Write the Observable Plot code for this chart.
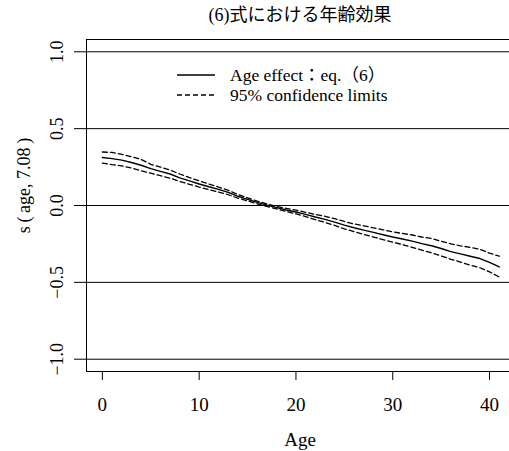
<!DOCTYPE html>
<html><head><meta charset="utf-8">
<script src="https://cdn.jsdelivr.net/npm/d3@7"></script>
<script src="https://cdn.jsdelivr.net/npm/@observablehq/plot@0.6"></script>
<style>body{margin:0;background:#fff}</style>
</head><body><div id="chart"></div>
<script>
const title = "(6)式における年齢効果";
const xLabel = "Age";
const yLabel = "s\u2009(\u2009age, 7.08\u2009)";
const legendLabels = ["Age effect：eq.（6）", "95% confidence limits"];
const xTicks = [0, 10, 20, 30, 40];
const yTicks = [-1.0, -0.5, 0.0, 0.5, 1.0];
const xDomain = [-1.64, 42.06];
const yDomain = [-1.08, 1.08];

const ages = [0,1,2,3,4,5,6,7,8,9,10,11,12,13,14,15,16,17,18,19,20,21,22,23,24,25,26,27,28,29,30,31,32,33,34,35,36,37,38,39,40,41];
const fit = [0.312,0.305,0.295,0.280,0.262,0.240,0.222,0.205,0.180,0.160,0.140,0.122,0.105,0.085,0.060,0.040,0.020,0.002,-0.014,-0.029,-0.042,-0.058,-0.075,-0.090,-0.108,-0.128,-0.145,-0.160,-0.175,-0.190,-0.205,-0.218,-0.232,-0.248,-0.262,-0.280,-0.300,-0.315,-0.330,-0.345,-0.370,-0.400];
const upper = [0.348,0.345,0.333,0.318,0.300,0.268,0.250,0.230,0.205,0.182,0.160,0.140,0.120,0.099,0.072,0.050,0.029,0.010,-0.006,-0.019,-0.030,-0.044,-0.058,-0.070,-0.086,-0.104,-0.120,-0.132,-0.145,-0.158,-0.172,-0.182,-0.192,-0.205,-0.215,-0.232,-0.250,-0.262,-0.272,-0.285,-0.310,-0.330];
const lower = [0.276,0.266,0.258,0.244,0.226,0.210,0.194,0.178,0.156,0.138,0.120,0.104,0.088,0.070,0.048,0.030,0.011,-0.006,-0.022,-0.039,-0.055,-0.072,-0.092,-0.110,-0.130,-0.152,-0.170,-0.188,-0.205,-0.222,-0.238,-0.254,-0.272,-0.290,-0.308,-0.328,-0.350,-0.368,-0.388,-0.405,-0.432,-0.465];

const data = ages.map((a, i) => ({age: a, fit: fit[i], upper: upper[i], lower: lower[i]}));
const serif = "'Liberation Serif','DejaVu Serif','Noto Sans CJK JP',serif";
const fmt = d3.format(".1f");

const chart = Plot.plot({
  width: 509, height: 451,
  marginLeft: 86, marginRight: 0, marginTop: 39, marginBottom: 80,
  style: {fontFamily: serif, background: "#fff", color: "#000"},
  x: {domain: xDomain},
  y: {domain: yDomain},
  marks: [
    Plot.ruleY(yTicks, {stroke: "#000", strokeWidth: 1}),
    Plot.ruleY(yDomain, {stroke: "#000", strokeWidth: 1}),
    Plot.ruleX([xDomain[0]], {stroke: "#000", strokeWidth: 1}),
    Plot.axisX({ticks: xTicks, tickSize: 9, tickPadding: 17, fontSize: 19, label: null, stroke: "#000"}),
    Plot.axisY({ticks: yTicks, tickSize: 12, tickRotate: -90, tickFormat: fmt, fontSize: 18,
      textAnchor: "middle", lineAnchor: "middle", tickPadding: 17, label: null, stroke: "#000"}),
    Plot.line(data, {x: "age", y: "upper", stroke: "#000", strokeWidth: 1.3, strokeDasharray: "5,3"}),
    Plot.line(data, {x: "age", y: "lower", stroke: "#000", strokeWidth: 1.3, strokeDasharray: "5,3"}),
    Plot.line(data, {x: "age", y: "fit", stroke: "#000", strokeWidth: 1.4}),
    Plot.text([title], {frameAnchor: "top", dy: -24, dx: 2, fontSize: 18, lineAnchor: "middle", textAnchor: "middle", fill: "#000"}),
    Plot.text([xLabel], {frameAnchor: "bottom", dy: 68, dx: 2, fontSize: 19, lineAnchor: "middle", textAnchor: "middle", fill: "#000"}),
    Plot.text([yLabel], {frameAnchor: "left", dx: -62, dy: -20, rotate: -90, fontSize: 18, lineAnchor: "middle", textAnchor: "middle", fill: "#000"})
  ]
});

const svg = d3.select(chart);
const lg = svg.append("g").attr("font-family", serif).attr("font-size", 17.5).attr("text-anchor", "start");
[[75, null], [95, "5,3"]].forEach(([y, dash], i) => {
  lg.append("line").attr("x1", 177).attr("x2", 215).attr("y1", y).attr("y2", y)
    .attr("stroke", "#000").attr("stroke-width", 1.3).attr("stroke-dasharray", dash);
  lg.append("text").attr("x", 230).attr("y", y).attr("dy", "0.35em").text(legendLabels[i]);
});
document.getElementById("chart").append(chart);
</script>
</body></html>
